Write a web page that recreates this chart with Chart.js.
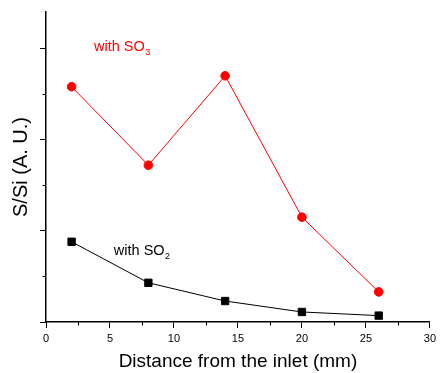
<!DOCTYPE html>
<html><head><meta charset="utf-8">
<script src="https://cdn.jsdelivr.net/npm/chart.js@4"></script>
<style>html,body{margin:0;padding:0;background:#fff}#wrap{width:440px;height:373px}</style>
</head><body><div id="wrap"><canvas id="c" width="440" height="373"></canvas></div>
<script>
const distances = [2, 8, 14, 20, 26];
const so3Values = [2.58, 1.72, 2.70, 1.15, 0.33];
const so2Values = [0.88, 0.43, 0.23, 0.11, 0.07];
const xTicks = [0, 5, 10, 15, 20, 25, 30];
const seriesLabels = ['with SO3', 'with SO2'];

const FONT = 'Arial, "Liberation Sans", sans-serif';

const minorTicks = {
  id: 'minorTicks',
  afterDraw(chart) {
    const ctx = chart.ctx, xs = chart.scales.x, ys = chart.scales.y;
    ctx.save();
    ctx.strokeStyle = '#000'; ctx.lineWidth = 1;
    ctx.beginPath();
    for (let v = 2.5; v < 30; v += 5) {
      const px = Math.round(xs.getPixelForValue(v)) + 0.5;
      ctx.moveTo(px, ys.bottom); ctx.lineTo(px, ys.bottom + 3.5);
    }
    for (let v = 0.5; v < 3.4; v += 1) {
      const py = Math.round(ys.getPixelForValue(v)) + 0.5;
      ctx.moveTo(xs.left, py); ctx.lineTo(xs.left - 3.5, py);
    }
    ctx.stroke();
    // annotations
    const drawLabel = (x, y, main, sub, color) => {
      const px = xs.getPixelForValue(x), py = ys.getPixelForValue(y);
      ctx.fillStyle = color;
      ctx.textBaseline = 'alphabetic';
      ctx.textAlign = 'left';
      ctx.font = '14.5px ' + FONT;
      ctx.fillText(main, px, py);
      const w = ctx.measureText(main).width;
      ctx.font = '9px ' + FONT;
      ctx.fillText(sub, px + w + 0.5, py + 4);
    };
    drawLabel(3.75, 2.97, 'with SO', '3', '#ff0000');
    drawLabel(5.3, 0.74, 'with SO', '2', '#000000');
    ctx.restore();
  }
};

new Chart(document.getElementById('c'), {
  type: 'line',
  data: {
    datasets: [
      { label: seriesLabels[0], data: distances.map((d, i) => ({x: d, y: so3Values[i]})),
        borderColor: '#ff0000', backgroundColor: '#ff0000', borderWidth: 1,
        pointStyle: 'circle', pointRadius: 4.3, pointHoverRadius: 4.3 },
      { label: seriesLabels[1], data: distances.map((d, i) => ({x: d, y: so2Values[i]})),
        borderColor: '#000000', backgroundColor: '#000000', borderWidth: 1,
        pointStyle: 'rect', pointRadius: 5.2, pointHoverRadius: 5.2 }
    ]
  },
  options: {
    responsive: false, animation: false,
    layout: { padding: { top: 12, right: 9, left: 0, bottom: 0 } },
    plugins: { legend: { display: false }, tooltip: { enabled: false } },
    scales: {
      x: {
        type: 'linear', min: 0, max: 30,
        afterBuildTicks: s => { s.ticks = xTicks.map(v => ({value: v})); },
        afterFit: s => { s.height = 51; },
        ticks: { color: '#000', font: { family: FONT, size: 11 }, padding: 4, maxRotation: 0 },
        grid: { drawOnChartArea: false, color: '#000', tickLength: 6, tickWidth: 1 },
        border: { color: '#000', width: 1.5 },
        title: { display: true, text: 'Distance from the inlet (mm)', color: '#000',
                 font: { family: FONT, size: 19 }, padding: { top: 2, bottom: 0 } }
      },
      y: {
        type: 'linear', min: 0, max: 3.4,
        afterBuildTicks: s => { s.ticks = [0, 1, 2, 3].map(v => ({value: v})); },
        afterFit: s => { s.width = 46; },
        ticks: { callback: () => '', padding: 0 },
        grid: { drawOnChartArea: false, color: '#000', tickLength: 6, tickWidth: 1 },
        border: { color: '#000', width: 1.5 },
        title: { display: true, text: 'S/Si (A. U.)', color: '#000',
                 font: { family: FONT, size: 20 }, padding: { top: 9, bottom: 0 } }
      }
    }
  },
  plugins: [minorTicks]
});
</script>
</body></html>
